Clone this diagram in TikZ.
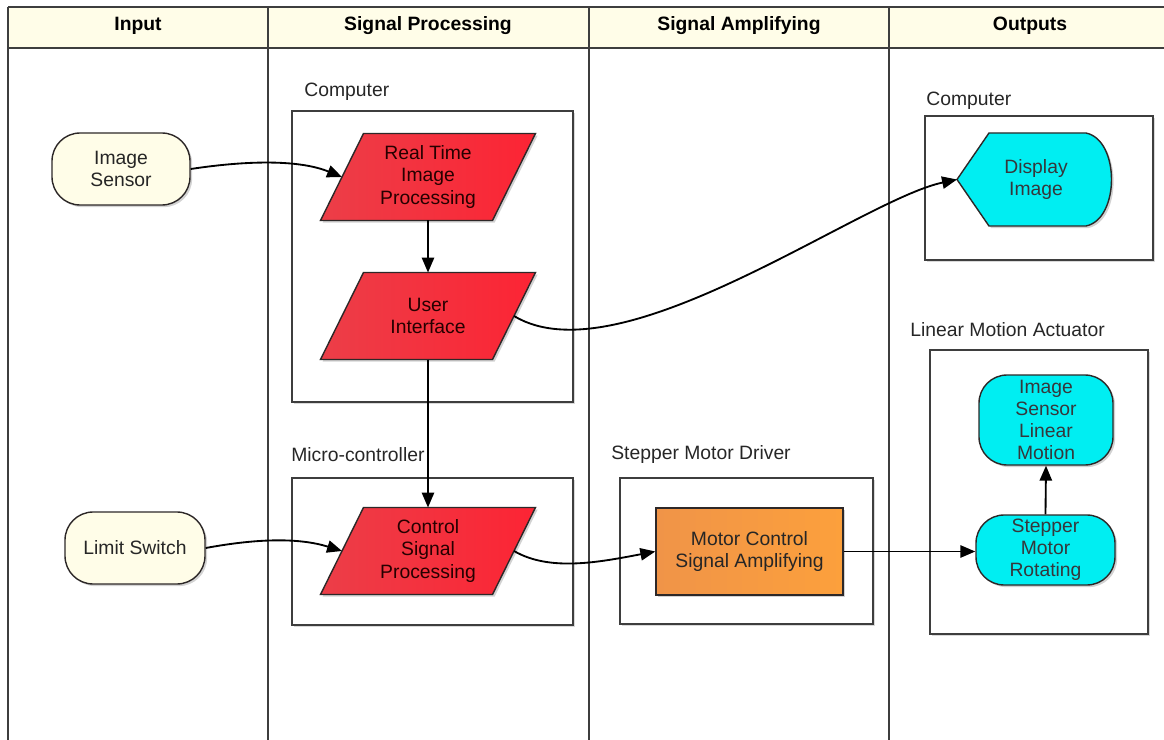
\documentclass[tikz,border=0pt]{standalone}
\usepackage{fontspec}
\setmainfont{Liberation Sans}
\usetikzlibrary{shapes.geometric,arrows.meta,shadows,calc}
\definecolor{cream}{RGB}{255,253,232}
\definecolor{lanegray}{RGB}{62,62,62}
\definecolor{redL}{RGB}{236,62,72}
\definecolor{redR}{RGB}{252,36,52}
\definecolor{orL}{RGB}{240,148,72}
\definecolor{orR}{RGB}{252,160,60}
\definecolor{cyanF}{RGB}{0,238,242}
\definecolor{edge}{RGB}{45,40,40}
\def\pxu{0.02cm}
% parallelogram: name, cx, cy, text
\newcommand{\ParaBox}[4]{%
  \draw[parashape] (#2-64.5,#3-43.5) -- (#2+107.5,#3-43.5) -- (#2+64.5,#3+43.5)
    -- (#2-107.5,#3+43.5) -- cycle;
  \node[paratext] (#1) at (#2,#3) {#4};}
\begin{document}
\begin{tikzpicture}[x=0.02cm,y=-0.02cm,
  font=\fontsize{11}{12.6}\selectfont,
  lane/.style={draw=lanegray, line width=1.2pt},
  hdr/.style={font=\fontsize{11}{12.6}\selectfont\bfseries, text=black, inner sep=0pt},
  grp/.style={draw=lanegray, line width=1.2pt, fill=white,
    drop shadow={shadow xshift=1pt, shadow yshift=-1pt, opacity=0.3}},
  glabel/.style={anchor=west, inner sep=0pt, text=black!85},
  sh/.style={drop shadow={shadow xshift=1.2pt, shadow yshift=-1.2pt, opacity=0.35}},
  term/.style={sh, draw=edge, line width=0.8pt, fill=cream, rounded corners=16pt,
    align=center, minimum height=72*\pxu, inner sep=0pt, text=black!85},
  parashape/.style={sh, draw=edge, line width=0.8pt, left color=redL, right color=redR},
  paratext/.style={rectangle, minimum width=172*\pxu, minimum height=87*\pxu,
    align=center, inner sep=0pt, outer sep=0pt, text=red!15!black},
  amp/.style={sh, rectangle, draw=edge, line width=0.8pt, left color=orL, right color=orR,
    minimum width=187*\pxu, minimum height=87*\pxu, align=center, inner sep=0pt, text=black!85},
  outn/.style={sh, draw=edge, line width=0.8pt, fill=cyanF, rounded corners=16pt,
    align=center, inner sep=0pt, text=black!80!cyan!60!black},
  disptext/.style={rectangle, minimum width=158*\pxu, minimum height=93*\pxu, align=center,
    inner sep=0pt, outer sep=0pt, text=black!80!cyan!60!black},
  arr/.style={-{Triangle[length=8.5pt,width=7pt]}, line width=1.05pt, black}
]
\useasboundingbox (0,0) rectangle (1164,740);

% lanes and header
\fill[cream] (8,7) rectangle (1170,48);
\draw[lane] (8,7) -- (1170,7);
\draw[lane] (8,48) -- (1170,48);
\foreach \xx in {8,268,589,889} { \draw[lane] (\xx,7) -- (\xx,745); }
\node[hdr] (h1) at (138,26) {Input};
\node[hdr] (h2) at (428,26) {Signal Processing};
\node[hdr] (h3) at (739,26) {Signal Amplifying};
\node[hdr] (h4) at (1030,26) {Outputs};

% group containers
\draw[grp] (292,111) rectangle (573,402);
\node[glabel] (g1) at (304,92) {Computer};
\draw[grp] (292,478) rectangle (573,625);
\node[glabel] (g2) at (291,455) {Micro-controller};
\draw[grp] (620,478) rectangle (873,624);
\node[glabel] (g3) at (611,455) {Stepper Motor Driver};
\draw[grp] (925,116) rectangle (1153,260);
\node[glabel] (g4) at (926,101) {Computer};
\draw[grp] (930,350) rectangle (1148,634);
\node[glabel] (g5) at (910,330) {Linear Motion Actuator};

% input nodes
\node[term, minimum width=138*\pxu] (is) at (121,169) {Image\\Sensor};
\node[term, minimum width=140*\pxu] (ls) at (135,548) {Limit Switch};

% processing
\ParaBox{rtip}{428}{177}{Real Time\\Image\\Processing}
\ParaBox{ui}{428}{316}{User\\Interface}
\ParaBox{csp}{428}{551}{Control\\Signal\\Processing}

% amplifying
\node[amp] (mc) at (749.5,551.5) {Motor Control\\Signal Amplifying};

% outputs
\draw[sh, draw=edge, line width=0.8pt, fill=cyanF]
  (957,179.5) -- (989,133) -- (1086,133) .. controls (1120,140) and (1120,219) .. (1086,226)
  -- (989,226) -- cycle;
\node[disptext] (disp) at (1036,179.5) {Display\\Image};
\node[outn, minimum width=134*\pxu, minimum height=90*\pxu,
  font=\fontsize{11}{12.4}\selectfont] (islm) at (1046,420) {Image\\Sensor\\Linear\\Motion};
\node[outn, minimum width=139*\pxu, minimum height=70*\pxu,
  font=\fontsize{11}{12.6}\selectfont] (smr) at (1045.5,550) {Stepper\\Motor\\Rotating};

% connectors
\draw[arr] (is.east) .. controls (250,160) and (300,160) .. (rtip.west);
\draw[arr] (ls.east) .. controls (260,538) and (300,538) .. (csp.west);
\draw[arr] (rtip.south) -- (ui.north);
\draw[arr] (ui.south) -- (csp.north);
\draw[arr] (ui.east) .. controls (620,380) and (860,200) .. (disp.west);
\draw[arr] (csp.east) .. controls (550,572) and (600,562) .. (mc.west);
\draw[arr] (mc.east) -- (mc.east -| smr.west);
\draw[arr] (smr.north) -- (islm.south);
\end{tikzpicture}
\end{document}
